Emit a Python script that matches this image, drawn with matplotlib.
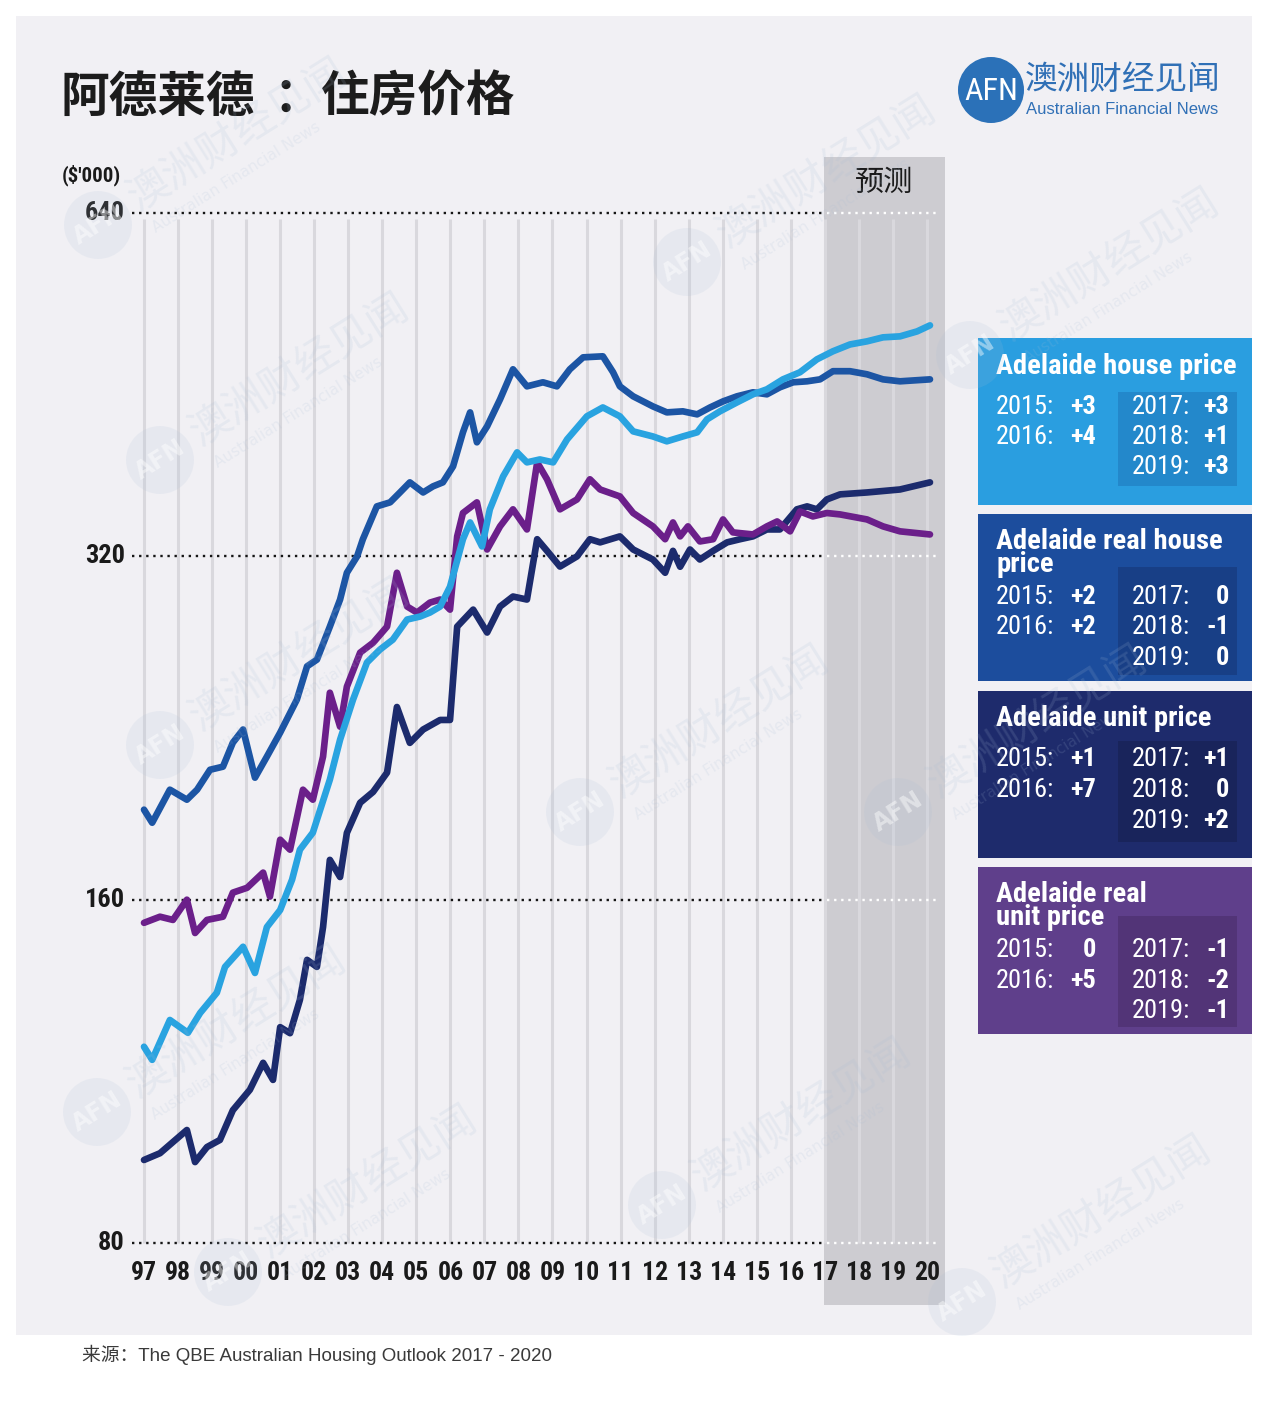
"""Adelaide housing prices (QBE Australian Housing Outlook 2017-2020), AFN style.

Writes out.png (1280x1404).
"""
import os

import matplotlib
matplotlib.use("Agg")
import matplotlib.pyplot as plt
from matplotlib import font_manager
from matplotlib.patches import Circle, Rectangle

# ---- data ($'000) ---------------------------------------------------------
house_year = [1997.00, 1997.24, 1997.76, 1998.29, 1998.65, 1999.14, 1999.38, 1999.91,
              2000.26, 2000.61, 2001.00, 2001.35, 2001.58, 2001.96, 2002.46, 2002.76,
              2003.14, 2003.55, 2003.93, 2004.31, 2004.73, 2005.11, 2005.40, 2005.70,
              2005.99, 2006.37, 2006.58, 2006.93, 2007.16, 2007.55, 2007.96, 2008.25,
              2008.63, 2009.02, 2009.43, 2010.01, 2010.48, 2010.98, 2011.37, 2011.95,
              2012.36, 2012.83, 2013.25, 2013.54, 2013.92, 2014.42, 2014.89, 2015.30,
              2015.77, 2016.27, 2016.77, 2017.24, 2017.74, 2018.24, 2018.71, 2019.21,
              2019.71, 2020.09]
house_price = [118.9, 115.8, 125.5, 122.3, 127.3, 132.6, 139.7, 145.5,
               138.0, 151.4, 156.7, 166.6, 177.0, 183.2, 203.9, 221.0,
               239.6, 258.3, 265.1, 270.5, 281.7, 283.4, 285.7, 289.2,
               301.0, 331.3, 342.7, 326.5, 351.9, 376.1, 394.8, 386.9,
               389.2, 386.9, 405.3, 424.6, 432.3, 424.6, 411.9, 407.7,
               403.7, 407.7, 411.1, 422.0, 428.9, 436.7, 443.9, 448.4,
               457.5, 464.1, 476.4, 484.2, 490.9, 494.0, 498.0, 499.0,
               504.0, 510.2]

real_house_year = [1997.00, 1997.24, 1997.76, 1998.26, 1998.56, 1998.94, 1999.32, 1999.61,
                   1999.91, 2000.26, 2000.61, 2001.00, 2001.49, 2001.79, 2002.08, 2002.46,
                   2002.76, 2002.96, 2003.26, 2003.43, 2003.84, 2004.23, 2004.52, 2004.81,
                   2005.20, 2005.49, 2005.78, 2006.08, 2006.37, 2006.58, 2006.78, 2007.08,
                   2007.46, 2007.84, 2008.25, 2008.72, 2009.13, 2009.51, 2009.90, 2010.48,
                   2010.78, 2010.98, 2011.37, 2011.95, 2012.36, 2012.83, 2013.25, 2013.63,
                   2014.01, 2014.42, 2014.89, 2015.30, 2015.68, 2016.07, 2016.48, 2016.86,
                   2017.24, 2017.74, 2018.24, 2018.71, 2019.21, 2020.09]
real_house_price = [191.9, 186.9, 199.8, 195.8, 199.8, 208.0, 209.3, 219.7,
                    225.6, 204.7, 213.6, 224.2, 239.6, 256.3, 259.8, 277.7,
                    293.3, 309.6, 320.0, 331.3, 354.0, 356.9, 364.1, 371.6,
                    364.1, 368.6, 371.6, 383.8, 411.1, 428.0, 402.9, 416.1,
                    439.4, 466.9, 451.1, 454.8, 451.1, 466.9, 478.3, 479.3,
                    464.1, 451.1, 442.1, 433.2, 428.0, 428.9, 426.3, 432.3,
                    437.6, 442.1, 445.7, 443.9, 450.2, 454.8, 455.7, 457.5,
                    465.1, 465.1, 462.2, 457.5, 455.7, 457.5]

unit_year = [1997.00, 1997.47, 1998.26, 1998.50, 1998.85, 1999.23, 1999.61, 2000.11,
             2000.50, 2000.79, 2001.00, 2001.29, 2001.58, 2001.79, 2002.08, 2002.26,
             2002.46, 2002.76, 2002.96, 2003.35, 2003.73, 2004.14, 2004.43, 2004.81,
             2005.20, 2005.70, 2005.99, 2006.20, 2006.67, 2007.08, 2007.46, 2007.84,
             2008.25, 2008.55, 2008.84, 2009.22, 2009.72, 2010.10, 2010.40, 2010.98,
             2011.37, 2011.95, 2012.31, 2012.54, 2012.75, 2013.04, 2013.33, 2013.72,
             2014.13, 2014.51, 2014.89, 2015.30, 2015.68, 2016.18, 2016.48, 2016.77,
             2017.06, 2017.45, 2018.24, 2019.21, 2020.09]
unit_price = [94.6, 95.9, 100.5, 94.2, 97.1, 98.5, 104.6, 109.0,
              115.1, 111.2, 123.7, 122.2, 130.7, 141.7, 139.7, 151.4,
              173.4, 167.5, 183.1, 194.6, 198.9, 206.8, 236.1, 219.6,
              225.6, 230.0, 230.0, 277.7, 287.4, 274.4, 289.2, 295.1,
              293.3, 331.3, 323.6, 313.5, 320.0, 331.3, 329.2, 333.2,
              324.5, 318.0, 309.6, 323.6, 313.4, 324.5, 318.0, 323.6,
              329.2, 331.3, 333.2, 337.9, 337.9, 351.9, 354.0, 351.9,
              359.0, 362.7, 364.1, 366.3, 371.6]

real_unit_year = [1997.00, 1997.47, 1997.85, 1998.26, 1998.50, 1998.85, 1999.32, 1999.61,
                  2000.03, 2000.50, 2000.70, 2001.00, 2001.29, 2001.67, 2001.96, 2002.26,
                  2002.46, 2002.76, 2002.96, 2003.35, 2003.73, 2004.14, 2004.43, 2004.73,
                  2005.02, 2005.40, 2005.70, 2005.99, 2006.20, 2006.37, 2006.78, 2007.08,
                  2007.46, 2007.84, 2008.25, 2008.55, 2008.84, 2009.22, 2009.72, 2010.10,
                  2010.40, 2010.98, 2011.37, 2011.95, 2012.31, 2012.54, 2012.75, 2012.98,
                  2013.33, 2013.72, 2014.01, 2014.30, 2014.89, 2015.30, 2015.60, 2015.98,
                  2016.27, 2016.65, 2017.06, 2017.45, 2018.24, 2018.71, 2019.21, 2020.09]
real_unit_price = [152.7, 154.6, 153.6, 160.0, 149.6, 153.6, 154.6, 162.3,
                   163.9, 169.0, 161.0, 180.6, 177.0, 199.8, 195.8, 213.6,
                   243.0, 226.9, 246.0, 263.5, 268.8, 277.7, 309.6, 289.2,
                   285.7, 291.5, 293.3, 287.4, 333.2, 349.3, 356.9, 324.5,
                   340.0, 351.9, 337.9, 386.9, 373.9, 351.9, 359.0, 373.9,
                   366.3, 361.2, 349.3, 340.0, 331.3, 342.7, 333.2, 340.0,
                   329.8, 331.3, 344.8, 335.9, 334.5, 340.0, 343.4, 336.6,
                   350.4, 346.9, 349.3, 348.3, 344.8, 340.0, 336.6, 334.5]

year_ticks = list(range(1997, 2021))
price_ticks = [80, 160, 320, 640]
forecast_start = 2017

box_titles = ["Adelaide house price", "Adelaide real house\nprice",
              "Adelaide unit price", "Adelaide real\nunit price"]
box_2015 = ["+3", "+2", "+1", "0"]
box_2016 = ["+4", "+2", "+7", "+5"]
box_2017 = ["+3", "0", "+1", "-1"]
box_2018 = ["+1", "-1", "0", "-2"]
box_2019 = ["+3", "0", "+2", "-1"]

# ---- styling --------------------------------------------------------------
C_HOUSE, C_REAL_HOUSE, C_UNIT, C_REAL_UNIT = "#29a3e0", "#1c55a4", "#1c2b6d", "#6b1f8a"
BOX_COLORS = ["#2a9ee0", "#1c4d9d", "#1e2b6c", "#5f3f8b"]
INNER_COLORS = ["#2388cb", "#183f86", "#19245b", "#523477"]
BLUE_LOGO = "#2b71b8"
CJK = ["Noto Sans CJK SC", "DejaVu Sans"]

W, H = 1280, 1404
X0_PX, PPY = 144, 34.04      # pixel of 1997 and pixels per year
Y80_PX, PPD = 1243, 343.3    # pixel of 80 and pixels per doubling


def year_at(px):
    return 1997 + (px - X0_PX) / PPY


def price_at(py):
    return 80 * 2 ** ((Y80_PX - py) / PPD)


def pick_font(patterns):
    files = [f.fname for f in font_manager.fontManager.ttflist]
    for pat in patterns:
        for fn in files:
            if os.path.basename(fn).lower().startswith(pat.lower()):
                return font_manager.FontProperties(fname=fn), pat
    return None, None


BOLD, bold_name = pick_font(["RobotoCondensed-Bold.", "LiberationSansNarrow-Bold.",
                             "DejaVuSansCondensed-Bold."])
REG, _ = pick_font(["RobotoCondensed-Regular.", "LiberationSansNarrow-Regular.",
                    "DejaVuSansCondensed."])
SCALE = 1.0
if BOLD is None:
    BOLD = font_manager.FontProperties(family="DejaVu Sans", weight="bold")
    SCALE = 0.8
elif bold_name.startswith("DejaVu"):
    SCALE = 0.88
if REG is None:
    REG = BOLD


def fp(bold, size):
    f = (BOLD if bold else REG).copy()
    f.set_size(size * SCALE)
    return f


fig = plt.figure(figsize=(W / 100, H / 100), dpi=100)
fig.patch.set_facecolor("white")

# background layer in pixel coordinates
bg = fig.add_axes([0, 0, 1, 1], zorder=0)
bg.set_xlim(0, W)
bg.set_ylim(H, 0)
bg.axis("off")
bg.add_patch(Rectangle((16, 16), 1236, 1319, color="#f1f0f4", lw=0))
bg.add_patch(Rectangle((824, 157), 121, 1148, color="#cdccd1", lw=0))

# main chart
ax = fig.add_axes([100 / W, 1 - 1310 / H, 860 / W, 1160 / H], zorder=1)
ax.set_xlim(year_at(100), year_at(960))
ax.set_yscale("log", base=2)
ax.set_ylim(price_at(1310), price_at(150))
ax.axis("off")

ax.vlines(year_ticks, price_at(1243), price_at(219), color="#d9d8dd", lw=2.2, zorder=1)
for p in price_ticks:
    ax.plot([year_at(132), forecast_start - 0.06], [p, p], color="#151515", lw=1.7,
            ls=(0, (1, 2.0)), zorder=2)
    ax.plot([forecast_start + 0.06, year_at(937)], [p, p], color="white", lw=1.7,
            ls=(0, (1, 2.0)), zorder=2)
    ax.text(year_at(125), p, f"{p}", ha="right", va="center", color="#1a1a1a",
            fontproperties=fp(True, 19))

for yr, vals, col in [(unit_year, unit_price, C_UNIT),
                      (real_unit_year, real_unit_price, C_REAL_UNIT),
                      (real_house_year, real_house_price, C_REAL_HOUSE),
                      (house_year, house_price, C_HOUSE)]:
    ax.plot(yr, vals, color=col, lw=4.8, solid_joinstyle="round",
            solid_capstyle="round", zorder=3)

for yr in year_ticks:
    ax.text(yr, price_at(1273), f"{yr % 100:02d}", ha="center", va="center",
            color="#1a1a1a", fontproperties=fp(True, 18.5))

bg.text(62, 175, "($'000)", ha="left", va="center", color="#1a1a1a",
        fontproperties=fp(True, 15))
bg.text(884, 183, "预测", ha="center", va="center", fontsize=21, family=CJK,
        weight="medium", color="#1a1a1a")

# title, logo, source
title_kw = dict(va="center", fontsize=35, family=CJK, weight="bold", color="#1c1c1c")
bg.text(60, 97, "阿德莱德", ha="left", **title_kw)
bg.text(298, 97, "：", ha="center", **title_kw)
bg.text(321, 97, "住房价格", ha="left", **title_kw)
bg.add_patch(Circle((991, 90), 33, color=BLUE_LOGO, lw=0))
bg.text(991, 92, "AFN", ha="center", va="center", color="white",
        fontproperties=fp(False, 23))
bg.text(1025, 80, "澳洲财经见闻", ha="left", va="center", fontsize=23.5,
        family=CJK, weight="medium", color="#3070b6")
bg.text(1026, 110, "Australian Financial News", ha="left", va="center",
        fontsize=12, family=["Liberation Sans", "DejaVu Sans"], color="#3070b6")
bg.text(82, 1355, "来源：The QBE Australian Housing Outlook 2017 - 2020", ha="left",
        va="center", fontsize=13.5, family=["Liberation Sans", "Noto Sans CJK SC"],
        color="#3a3a3a")

# forecast boxes
box_tops = [338, 514, 691, 867]
box_bottoms = [505, 681, 858, 1034]
inner_tops = [392, 567, 741, 916]
inner_bottoms = [486, 675, 842, 1027]
for i, title in enumerate(box_titles):
    top = box_tops[i]
    bg.add_patch(Rectangle((978, top), 274, box_bottoms[i] - top, color=BOX_COLORS[i], lw=0))
    bg.add_patch(Rectangle((1118, inner_tops[i]), 119, inner_bottoms[i] - inner_tops[i],
                           color=INNER_COLORS[i], lw=0))
    n_lines = title.count("\n") + 1
    bg.text(996, top + 28 + 11 * (n_lines - 1), title, ha="left", va="center",
            color="white", linespacing=0.82, fontproperties=fp(True, 20.5))
    row0 = top + (83 if n_lines > 1 else 68.5)
    for k, (lab, val) in enumerate([("2015:", box_2015[i]), ("2016:", box_2016[i])]):
        y = row0 + 30.5 * k
        bg.text(996, y, lab, ha="left", va="center", color="white", fontproperties=fp(False, 19))
        bg.text(1096, y, val, ha="right", va="center", color="white", fontproperties=fp(True, 19))
    for k, (lab, val) in enumerate([("2017:", box_2017[i]), ("2018:", box_2018[i]),
                                    ("2019:", box_2019[i])]):
        y = row0 + 30.5 * k
        bg.text(1132, y, lab, ha="left", va="center", color="white", fontproperties=fp(False, 19))
        bg.text(1229, y, val, ha="right", va="center", color="white", fontproperties=fp(True, 19))

# faint watermarks on top
top_ax = fig.add_axes([0, 0, 1, 1], zorder=2)
top_ax.set_xlim(0, W)
top_ax.set_ylim(H, 0)
top_ax.axis("off")
WATERMARKS = [(98, 225), (160, 460), (160, 745), (97, 1112), (228, 1272), (580, 812),
              (687, 262), (970, 355), (898, 812), (662, 1205), (962, 1302)]
for cx, cy in WATERMARKS:
    top_ax.add_patch(Circle((cx, cy), 34, color="#a9bdd6", alpha=0.14, lw=0))
    top_ax.text(cx, cy, "AFN", ha="center", va="center", rotation=32, color="white",
                alpha=0.45, fontsize=17, weight="bold")
    top_ax.text(cx + 40, cy - 14, "澳洲财经见闻", ha="left", va="baseline", rotation=32,
                rotation_mode="anchor", fontsize=30, family=CJK, color="#a9bdd6",
                alpha=0.16)
    top_ax.text(cx + 58, cy + 8, "Australian Financial News", ha="left", va="baseline",
                rotation=32, rotation_mode="anchor", fontsize=11, color="#a9bdd6",
                alpha=0.16)

fig.savefig("out.png", dpi=100)
